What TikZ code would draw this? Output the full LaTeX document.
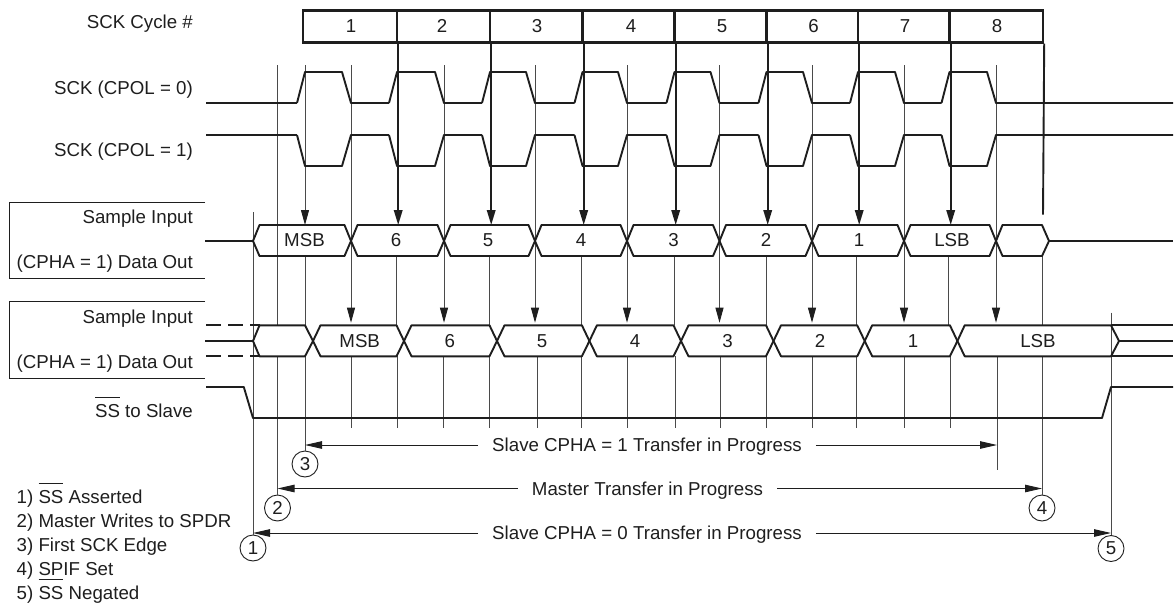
\documentclass[tikz,border=0pt]{standalone}
\usepackage{fontspec}
\setmainfont{Liberation Sans}
\usetikzlibrary{arrows.meta,positioning,calc}
\definecolor{sigInk}{HTML}{1E1E1E}
\definecolor{guideInk}{HTML}{4A4A4A}
\newcommand{\barSS}{\setbox0\hbox{SS}\rlap{\rule[19pt]{\wd0}{0.8pt}}\box0}
\tikzset{
  sigline/.style={line width=1.9pt, sigInk, line join=round},
  guide/.style={line width=0.9pt, guideInk},
  guidearrow/.style={guide, -{Stealth[length=15pt, width=8pt, inset=0pt, color=sigInk]}},
  clockdrop/.style={line width=1.9pt, sigInk},
  clockarrow/.style={clockdrop, -{Stealth[length=15pt, width=8.5pt, inset=0pt]}},
  framebox/.style={line width=0.9pt, sigInk},
  spanarrow/.style={line width=0.9pt, sigInk, -{Stealth[length=17pt, width=7.5pt, inset=0pt]}},
  sigtext/.style={font=\fontsize{18.7}{22}\selectfont, text=sigInk, inner sep=0pt, text height=13.3pt, text depth=0pt},
  rowlabel/.style={sigtext, anchor=east},
  legendline/.style={sigtext, anchor=west},
  spanlabel/.style={sigtext, inner xsep=14pt},
  cyclecell/.style={draw=sigInk, line width=2.4pt, minimum height=32pt, inner sep=0pt},
  callout/.style={sigtext, draw=sigInk, line width=0.9pt, fill=white, circle, minimum size=26pt, text height=, text depth=}
}
\begin{document}
\begin{tikzpicture}[x=1pt,y=-1pt]
  \useasboundingbox (0,0) rectangle (1175,605);

  \foreach \i/\l/\r/\m in {1/303/397/351,2/397/490/442,3/490/582.5/537,4/582.5/674.5/631,5/674.5/766.5/722,6/766.5/858/813.5,7/858/949.5/905,8/949.5/1043/997}{
    \pgfmathsetmacro{\cellw}{\r-\l}
    \node[cyclecell, minimum width=\cellw pt] (cyc\i) at ({(\l+\r)/2},26.5) {};
    \node[sigtext] (cycnum\i) at (\m,25.5) {\i};
  }

  \node[rowlabel] (lblcycle) at (193,21.5) {SCK Cycle \#};
  \node[rowlabel] (lblpolzero) at (193,87.5) {SCK (CPOL = 0)};
  \node[rowlabel] (lblpolone) at (193,149.5) {SCK (CPOL = 1)};
  \node[rowlabel] (lblsampleA) at (193,216.5) {Sample Input};
  \node[rowlabel] (lbldataA) at (193,261.5) {(CPHA = 1) Data Out};
  \node[rowlabel] (lblsampleB) at (193,316.5) {Sample Input};
  \node[rowlabel] (lbldataB) at (193,361.5) {(CPHA = 1) Data Out};
  \node[rowlabel] (lblss) at (193,410.5) {\barSS{} to Slave};

  \draw[framebox] (205,202) -- (9.5,202) -- (9.5,278) -- (205,278);
  \draw[framebox] (205,301.5) -- (9.5,301.5) -- (9.5,378.5) -- (205,378.5);

  \coordinate (rowAtop) at (0,225);
  \coordinate (endtick) at (1043,214.7);

  \node[callout] (mark1) at (253,548) {1};
  \node[callout] (mark2) at (277.5,508) {2};
  \node[callout] (mark3) at (305,464) {3};
  \node[callout] (mark4) at (1042,508) {4};
  \node[callout] (mark5) at (1111,548.5) {5};

  \foreach \x in {351,444,535,627,719.5,812,904,996}{
    \draw[guidearrow] (\x,65) -- (\x,322.7);
  }
  \foreach \x in {396.5,489,581,674,766,856,948.5}{
    \draw[guide] (\x,256) -- (\x,325);
  }
  \foreach \x in {351,397,443,489,537,581,627,675,720,766,812,856,904,950}{
    \draw[guide] (\x,356) -- (\x,427.7);
  }
  \draw[guidearrow] (305,65) -- (305,225);
  \draw[guide] (305,256) -- (305,325);
  \draw[guide] (305,356) -- (mark3);
  \draw[guide] (277.5,65) -- (277.5,325);
  \draw[guide] (277.5,356) -- (mark2);
  \draw[guide] (253,212) -- (mark1);
  \draw[guide] (1042,256) -- (1042,325);
  \draw[guide] (1042,356) -- (mark4);
  \coordinate (slaveend) at (997,470);
  \draw[guide] (997,356) -- (slaveend);
  \draw[guide] (1111,312.7) -- (mark5);

  \foreach \i in {1,...,7}{
    \draw[clockarrow] (cyc\i.south east) -- (cyc\i.south east |- rowAtop);
  }
  \draw[clockdrop] (cyc8.south east) -- (endtick);

  \draw[sigline] (206,103) -- (297,103);
  \draw[sigline] (206,135) -- (297,135);
  \foreach \r/\f/\n in {305/351/397,397/444/490,490/535/582.5,582.5/627/674.5,674.5/719.5/766.5,766.5/812/858,858/904/949.5,949.5/996/1181}{
    \draw[sigline] (\r-8,103) -- (\r,72) -- (\f-9,72) -- (\f,103) -- (\n-8,103);
    \draw[sigline] (\r-8,135) -- (\r,166) -- (\f-9,166) -- (\f,135) -- (\n-8,135);
  }

  \draw[sigline] (205,241) -- (253,241);
  \foreach \l/\r/\m/\t in {253/351/304.5/MSB,351/444/396/6,444/535/488/5,535/627/581/4,627/719.5/673.5/3,719.5/812/766/2,812/904/859/1,904/996/952/LSB}{
    \draw[sigline] (\l,241) -- (\l+6.5,225) -- (\r-6.5,225) -- (\r,241) -- (\r-6.5,256) -- (\l+6.5,256) -- cycle;
    \node[sigtext] (rowA\t) at (\m,240) {\t};
  }
  \draw[sigline] (996,241) -- (1002.5,225) -- (1042,225) -- (1049,241) -- (1042,256) -- (1002.5,256) -- cycle;
  \draw[sigline] (1049,241) -- (1173,241);

  \draw[sigline, dash pattern=on 15pt off 7pt] (206,325.3) -- (259.5,325.3);
  \draw[sigline, dash pattern=on 15pt off 7pt] (206,356.3) -- (259.5,356.3);
  \draw[sigline] (205,341) -- (253,341);
  \draw[sigline] (253,341) -- (259.5,325.3) -- (305,325.3) -- (313,341) -- (305,356.3) -- (259.5,356.3) -- cycle;
  \foreach \l/\r/\m/\t in {313/404/359.7/MSB,404/497/449.7/6,497/589.4/542/5,589.4/681/635/4,681/773.5/727.6/3,773.5/864.7/820/2,864.7/957.4/913/1}{
    \draw[sigline] (\l,341) -- (\l+7.5,325.3) -- (\r-7.5,325.3) -- (\r,341) -- (\r-7.5,356.3) -- (\l+7.5,356.3) -- cycle;
    \node[sigtext] (rowB\t) at (\m,340.5) {\t};
  }
  \draw[sigline] (1111,325.3) -- (964.7,325.3) -- (957.4,341) -- (964.7,356.3) -- (1111,356.3) -- (1119,341) -- cycle;
  \node[sigtext] (rowBLSB) at (1038,340.5) {LSB};
  \draw[sigline] (1111,325.3) -- (1173,325.3);
  \draw[sigline] (1119,341) -- (1173,341);
  \draw[sigline] (1111,356.3) -- (1173,356.3);

  \draw[sigline] (206,387) -- (243.8,387) -- (253,418) -- (1102,418) -- (1111,387) -- (1173,387);

  \node[spanlabel] (slaveone) at (647,445) {Slave CPHA = 1 Transfer in Progress};
  \node[spanlabel] (mastertx) at (647.5,488.5) {Master Transfer in Progress};
  \node[spanlabel] (slavezero) at (647,533) {Slave CPHA = 0 Transfer in Progress};

  \draw[spanarrow] (slaveone.west) -- (slaveone.west -| mark3);
  \draw[spanarrow] (slaveone.east) -- (slaveone.east -| slaveend);
  \draw[spanarrow] (mastertx.west) -- (mastertx.west -| mark2);
  \draw[spanarrow] (mastertx.east) -- (mastertx.east -| mark4);
  \draw[spanarrow] (slavezero.west) -- (slavezero.west -| mark1);
  \draw[spanarrow] (slavezero.east) -- (slavezero.east -| mark5);

  \node[legendline] (legend1) at (16.5,496.5) {1) \barSS{} Asserted};
  \node[legendline] (legend2) at (16.5,520.5) {2) Master Writes to SPDR};
  \node[legendline] (legend3) at (16.5,545) {3) First SCK Edge};
  \node[legendline] (legend4) at (16.5,568.5) {4) SPIF Set};
  \node[legendline] (legend5) at (16.5,592.5) {5) \barSS{} Negated};
\end{tikzpicture}
\end{document}
